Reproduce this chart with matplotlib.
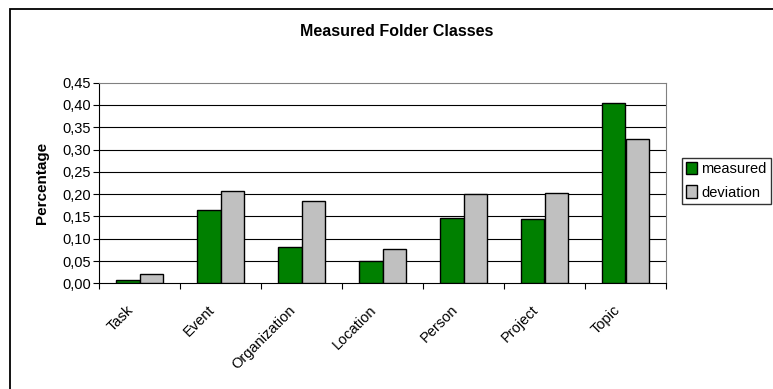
import numpy as np
import matplotlib
matplotlib.use("Agg")
import matplotlib.pyplot as plt
from matplotlib.patches import Rectangle, Patch

categories = ["Task", "Event", "Organization", "Location", "Person", "Project", "Topic"]
measured = [0.007, 0.165, 0.082, 0.050, 0.147, 0.145, 0.405]
deviation = [0.021, 0.207, 0.185, 0.077, 0.200, 0.202, 0.323]
yticks = [0.00, 0.05, 0.10, 0.15, 0.20, 0.25, 0.30, 0.35, 0.40, 0.45]

plt.rcParams['font.family'] = ['Liberation Sans', 'DejaVu Sans']

W, H = 773, 389
fig = plt.figure(figsize=(W / 100, H / 100), dpi=100)
# rand om de hele grafiek (rechts en onder valt buiten beeld)
fig.patches.append(Rectangle((9.5 / W, -0.1), 1.1, 1 - 8.5 / H + 0.1, transform=fig.transFigure,
                             fill=False, edgecolor='black', linewidth=1.3))

ax = fig.add_axes([99 / W, 1 - 283.3 / H, (666 - 99) / W, (283.3 - 82.7) / H])
x = np.arange(len(categories))
bw = 1 / 3.5
ax.bar(x - bw / 2, measured, bw, color='#008000', edgecolor='black', linewidth=1, label='measured', zorder=3)
ax.bar(x + bw / 2, deviation, bw, color='#C0C0C0', edgecolor='black', linewidth=1, label='deviation', zorder=3)

ax.set_xlim(-0.5, len(categories) - 0.5)
ax.set_ylim(0, 0.45)
ax.set_yticks(yticks)
ax.set_yticklabels([f"{v:.2f}".replace('.', ',') for v in yticks], fontsize=10.5)
for v in yticks[1:-1]:
    ax.axhline(v, color='black', linewidth=0.8, zorder=1)

# categorie-grenzen als streepjes, labels iets links van het midden
ax.set_xticks(np.arange(len(categories) + 1) - 0.5)
ax.set_xticklabels([])
ax.set_xticks(x - 0.16, minor=True)
ax.set_xticklabels(categories, minor=True, rotation=45, ha='right', rotation_mode='anchor', fontsize=10.5)
ax.tick_params(axis='x', which='minor', length=0, pad=14)
ax.tick_params(axis='x', which='major', length=4, direction='out', color='black')
ax.tick_params(axis='y', length=4, direction='out', pad=2)

ax.spines['top'].set_color('#808080')
ax.spines['right'].set_color('#808080')
ax.spines['left'].set_color('black')
ax.spines['bottom'].set_color('black')

ax.set_ylabel('Percentage', fontsize=11, fontweight='bold', labelpad=9)
fig.text(397 / W, 1 - 31 / H, 'Measured Folder Classes', ha='center', va='center',
         fontsize=11.5, fontweight='bold')

handles = [Patch(facecolor='#008000', edgecolor='black'), Patch(facecolor='#C0C0C0', edgecolor='black')]
leg = fig.legend(handles, ['measured', 'deviation'], loc='upper left',
                 bbox_to_anchor=(681.5 / W, 1 - 157.5 / H), fontsize=10.5, frameon=True, fancybox=False,
                 handlelength=0.75, handleheight=0.9, handletextpad=0.3, borderpad=0.3,
                 labelspacing=0.65, borderaxespad=0)
leg.get_frame().set_edgecolor('black')
leg.get_frame().set_linewidth(1)

fig.savefig('out.png', dpi=100)
